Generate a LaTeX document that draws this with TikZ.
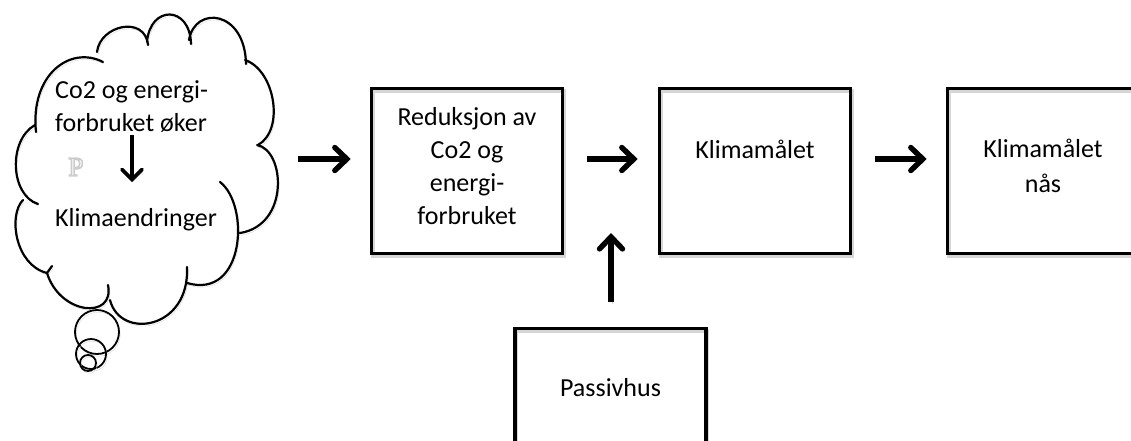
\documentclass[tikz,border=0pt]{standalone}
\usepackage{fontspec}
\setmainfont{Carlito}
\newfontfamily\serifP{Liberation Serif}
\usetikzlibrary{arrows.meta}
\newcommand{\glowP}{\special{pdf:literal direct 2 Tr 1.6 w 0.80 0.80 0.80 RG}P\special{pdf:literal direct 0 Tr}}
\begin{document}
\begin{tikzpicture}[x=1pt,y=-1pt,
  softshadow/.style={preaction={draw=black!16,transform canvas={shift={(1.3pt,-2.2pt)}}}},
  boxst/.style={draw=black,line width=3.6pt,minimum width=191pt,minimum height=165pt,inner sep=0pt,softshadow},
  txt/.style={font=\fontsize{26}{33}\selectfont,inner sep=0pt,align=center,text=black},
  cloudst/.style={draw=black,line width=2.2pt,line cap=round},
  bigarrow/.style={line width=5.4pt,-{Straight Barb[length=12pt,width=23pt,line cap=round]},softshadow},
  smallarrow/.style={line width=3.6pt,-{Straight Barb[length=10pt,width=20pt,line cap=round]},softshadow}]
\useasboundingbox (0,0) rectangle (1131,440);
\clip (0,0) rectangle (1131,440);
% cloud
\draw[cloudst,softshadow]
  (38,204) .. controls (10,195) and (8,140) .. (35,125)
  (36,132) .. controls (30,75) and (70,45) .. (103,62)
  (97,52) .. controls (100,25) and (145,15) .. (148,45)
  (147,42) .. controls (150,5) and (190,5) .. (191,44)
  (189,40) .. controls (195,5) and (245,10) .. (246,64)
  (245,60) .. controls (275,70) and (285,130) .. (258,145)
  (257,145) .. controls (285,150) and (290,225) .. (240,233)
  (220,182) .. controls (250,205) and (245,300) .. (187,283)
  (187,267) .. controls (190,330) and (120,340) .. (110,300)
  (108,285) .. controls (115,320) and (60,315) .. (47,273)
  (52,266) -- (47,273) .. controls (15,265) and (8,215) .. (23,200);
\draw[cloudst,line width=1.8pt,softshadow] (97,332) circle (22pt);
\draw[cloudst,line width=1.8pt,softshadow] (91,354) circle (15pt);
\draw[cloudst,line width=1.8pt,softshadow] (88,363) circle (8pt);
% white P with soft outline
\node[inner sep=0pt,font=\serifP\fontsize{27}{27}\selectfont,text=white] (pw) at (76,167) {\glowP};
% cloud texts
\node[txt,anchor=west] (t1a) at (55,92) {Co2 og energi-};
\node[txt,anchor=west] (t1b) at (55,123) {forbruket øker};
\node[txt,anchor=west] (t2) at (55,220) {Klimaendringer};
\coordinate (ca1) at (132,135);
\coordinate (ca2) at (132,182);
\draw[smallarrow] (ca1) -- (ca2);
% boxes
\node[boxst] (b1) at (467,171) {};
\node[boxst] (b2) at (755,171) {};
\node[boxst] (b3) at (1043,171) {};
\node[boxst] (b4) at (610.5,411) {};
\node[txt] (l1) at (467,166) {Reduksjon av\\Co2 og\\energi-\\forbruket};
\node[txt] (l2) at (755,149) {Klimamålet};
\node[txt,font=\fontsize{26}{35}\selectfont] (l3) at (1043,166) {Klimamålet\\nås};
\node[txt] (l4) at (610.5,388) {Passivhus};
% arrows
\coordinate (cl) at (298,159);
\coordinate (up) at (611,233);
\draw[bigarrow,shorten >=19pt] (cl) -- (b1.west |- cl);
\draw[bigarrow,shorten <=23pt,shorten >=20pt] (b1.east |- cl) -- (b2.west |- cl);
\draw[bigarrow,shorten <=23pt,shorten >=19pt] (b2.east |- cl) -- (b3.west |- cl);
\draw[bigarrow,shorten <=25pt] (b4.north -| up) -- (up);
\end{tikzpicture}
\end{document}
